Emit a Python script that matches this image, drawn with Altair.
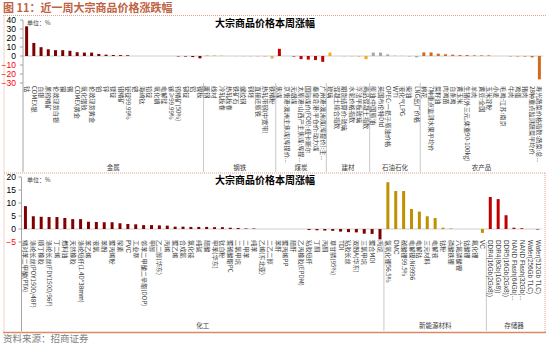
import re
import altair as alt
import pandas as pd

FONT = "Noto Sans CJK SC"
LATIN = "Liberation Sans"

# ---------------- top panel ----------------
metal_names = ["钴", "COMEX银", "白银", "黑钨精矿", "伦敦现货白银", "铜", "锡", "COMEX黄金", "氧化镨钕",
               "伦敦现货黄金", "铂", "锌", "镁锭", "钼精矿", "铋锭99.99%", "钯", "海绵钛", "铅锭", "氧化镝",
               "电解锰", "镓≥99.99%", "钨精矿(50%)", "锑锭", "铝", "镍板"]
metal_vals = [33, 14.5, 9.8, 7.5, 6.5, 6.5, 5.8, 4.2, 3.8, 3.8, 2.3, 1.5, 1.1, 1.0, 0.7,
              0, 0, 0, 0, 0, 0, -0.5, -0.6, -1.2, -2.6]
steel_names = ["废钢", "线材", "冷轧板卷", "热轧板卷", "铁矿石", "螺纹钢", "钢坯", "直接还原铁",
               "热轧带钢(中宽带)", "铁精粉"]
steel_vals = [0.8, 0.6, 0.4, 0, -0.2, -0.3, -0.3, -0.4, -0.6, -2.8]
coal_names = ["焦煤", "京唐港:澳洲主焦煤(库提价):山西产", "无烟煤", "太原港:山西产主焦煤:库提价:含税",
              "国际煤价(FOB):纽卡斯尔", "秦皇岛港:平仓价:动力煤", "广州港:澳洲煤(库提价):主焦煤"]
coal_vals = [8.0, 0, -0.6, -3.5, -4.0, -4.5, -6.5]
build_names = ["玻璃", "混凝土综合指数", "期货结算价:玻璃", "水泥价格指数", "浮法平板玻璃", "商品混凝土指数"]
build_vals = [3.8, 0, -0.3, -0.4, -0.6, -3.5]
petro_names = ["原油:中国原油", "英国布伦特Dtd", "OPEC:一揽子原油价格", "WTI", "液化气LPG", "柴油", "LNG出厂价格"]
petro_vals = [3.8, 3.8, 1.8, 0.3, 0.2, -0.5, -1.5]
agri_names = ["棉花", "7种重点监测水果平均价", "菜籽油", "肉鸡苗", "白条鸡", "黄玉米",
              "生猪(外三元,体重90-100kg)", "羊肉", "黄豆:全国", "玉米淀粉", "小麦", "毛鸡:江苏:南京",
              "牛肉", "鸡蛋", "猪肉", "28种重点监测蔬菜平均价", "寿光蔬菜价格指数:蔬菜:总指数"]
agri_vals = [4, 4, 2.6, 1.9, 1.5, 1.1, 1.1, 0.7, 0.7, 0.7, 0, 0, -0.4, -0.5, -0.6, -1.5, -26]

top_groups = ["金属", "钢铁", "煤炭", "建材", "石油石化", "农产品"]
top_names = [metal_names, steel_names, coal_names, build_names, petro_names, agri_names]
top_values = [metal_vals, steel_vals, coal_vals, build_vals, petro_vals, agri_vals]
top_colors = ["#7f0000", "#dcae4e", "#c00000", "#f0ac1a", "#a6a6a6", "#d2691e"]
top_ticks = [40, 30, 20, 10, 0, -10, -20, -30]

# ---------------- bottom panel ----------------
chem_names = ["精对苯二甲酸(PTA)", "涤纶长丝(POY150D/48F)", "顺丁橡胶", "涤纶长丝(FDY150D/96F)", "丁二烯",
              "燃料油", "天然橡胶", "涤纶短纤(1.4D*38mm)", "苯乙烯", "液氯", "苯酚", "聚丙烯粉", "尿素", "PVC",
              "工业萘", "邻苯二甲酸二辛酯(DOP)", "甲醇", "乙二醇(华东)", "丙烯", "聚乙烯", "合成氨", "氯化铵",
              "纯碱", "醋酸", "甲苯(华东)", "钛白粉", "聚碳酸酯PC", "二氯甲烷", "二甲苯", "纯苯", "乙烯(东北亚)",
              "二乙二醇", "苯酐", "聚丙烯PP", "醋酐", "乙丙橡胶(EPDM)", "粘胶短纤", "丁酮", "丙酮",
              "草甘膦(95%)", "TDI", "粘胶长丝", "双酚A(华东)", "三氯甲烷", "聚合MDI", "丙烷"]
chem_vals = [8.8, 4.9, 4.7, 4.6, 4.6, 4.2, 3.8, 3.8, 2.8, 2.7, 2.6, 2.6, 2.2, 1.9, 1.8, 1.5, 1.5, 1.4,
             1.3, 0.9, 0.9, 0.8, 0.8, 0.8, 0.7, 0.7, 0.5, 0.4, 0.2, 0.2, 0, 0, 0, 0, 0, 0,
             -0.4, -0.5, -0.6, -0.7, -1.0, -1.2, -1.3, -1.8, -1.9, -4.0]
ne_names = ["氢氧化锂56.5%", "DMC", "碳酸锂99.5%", "电解镍:Ni9996", "电解钴", "三元材料", "电解液",
            "钴粉", "磷酸铁锂", "六氟磷酸锂", "钴酸锂", "氟化锂", "VC"]
ne_vals = [18, 14.6, 14.6, 7.7, 6.7, 4.9, 4.2, 0.5, 0.2, 0, 0, 0, -1.5]
mem_names = ["DDR4(16Gb(2Gx8))", "DDR4(8Gb(1Gx8))", "DDR5(16Gb(2Gx8))", "NAND Flash(64Gb(8Gx8)MLC)",
             "NAND Flash(32Gb(4Gx8)MLC)", "Wafer(256Gb TLC)", "Wafer(512Gb TLC)"]
mem_vals = [12.3, 11.5, 5.3, 0.5, 0.3, 0, -0.2]

bot_groups = ["化工", "新能源材料", "存储器"]
bot_names = [chem_names, ne_names, mem_names]
bot_values = [chem_vals, ne_vals, mem_vals]
bot_colors = ["#7f0000", "#bf9000", "#c00000"]
bot_ticks = [20, 15, 10, 5, 0, -5]

CJK = re.compile(r"[\u3000-\u9fff\uff00-\uffef]")


def build(groups, names, values):
    rows, grows = [], []
    for g, ns, vs in zip(groups, names, values):
        for n, v in zip(ns, vs):
            rows.append({"cat": n, "val": v, "grp": g, "latin": CJK.search(n) is None})
        k = len(ns)
        grows.append({"grp": g, "first": ns[0], "mid": ns[k // 2], "odd": k % 2 == 1})
    return pd.DataFrame(rows), pd.DataFrame(grows)


def panel(groups, names, values, colors, ticks, ydom, yrng, xrng, lab_y, sep_bot, glab_y):
    df, gdf = build(groups, names, values)
    xs = alt.Scale(domain=list(df["cat"]), range=xrng, paddingInner=0, paddingOuter=0)
    ys = alt.Scale(domain=ydom, range=yrng, nice=False, zero=False)
    cs = alt.Scale(domain=groups, range=colors)
    plot_top, plot_bot = yrng[1], yrng[0]

    def X(field, **kw):
        return alt.X(field, scale=xs, axis=None, **kw)

    zero = alt.Chart(pd.DataFrame({"z": [0]})).mark_rule(color="#d0d0d0", strokeWidth=1).encode(
        y=alt.Y("z:Q", scale=ys, axis=None), x=alt.value(xrng[0]), x2=alt.value(xrng[1]))
    bars = alt.Chart(df).mark_bar(size=3).encode(
        x=X("cat:N"),
        y=alt.Y("val:Q", scale=ys, axis=None),
        color=alt.Color("grp:N", scale=cs, legend=None))
    lab_cjk = alt.Chart(df[~df["latin"]]).mark_text(
        angle=90, align="left", baseline="middle", fontSize=6.2, font=FONT, color="#404040",
        limit=78, ellipsis="...").encode(x=X("cat:N"), y=alt.value(lab_y), text="cat:N")
    layers = [zero]
    tdf = pd.DataFrame({"t": ticks})
    tlab = alt.Chart(tdf).mark_text(align="right", baseline="middle", fontSize=8.5,
                                    font=LATIN).encode(
        y=alt.Y("t:Q", scale=ys, axis=None), x=alt.value(16), text="t:Q",
        color=alt.condition("datum.t < 0", alt.value("#ff0000"), alt.value("#000000")))
    tticks = alt.Chart(tdf).mark_rule(color="#a0a0a0").encode(
        y=alt.Y("t:Q", scale=ys, axis=None), x=alt.value(xrng[0] - 3), x2=alt.value(xrng[0]))
    axis_line = alt.Chart(gdf.iloc[:1]).mark_rule(color="#a6a6a6").encode(
        x=X("first:N", bandPosition=0), y=alt.value(plot_top), y2=alt.value(sep_bot))
    seps = alt.Chart(gdf.iloc[1:]).mark_rule(color="#c8c8c8").encode(
        x=X("first:N", bandPosition=0), y=alt.value(plot_bot), y2=alt.value(sep_bot))
    gl_even = alt.Chart(gdf[~gdf["odd"]]).mark_text(fontSize=6.5, font=FONT, color="#404040",
                                                    baseline="middle").encode(
        x=X("mid:N", bandPosition=0), y=alt.value(glab_y), text="grp:N")
    gl_odd = alt.Chart(gdf[gdf["odd"]]).mark_text(fontSize=6.5, font=FONT, color="#404040",
                                                  baseline="middle").encode(
        x=X("mid:N", bandPosition=0.5), y=alt.value(glab_y), text="grp:N")
    layers += [tticks, axis_line, seps, bars, lab_cjk]
    if df["latin"].any():
        lab_lat = alt.Chart(df[df["latin"]]).mark_text(
            angle=90, align="left", baseline="middle", fontSize=6.4, font=LATIN, color="#404040",
            limit=62, ellipsis="...").encode(x=X("cat:N"), y=alt.value(lab_y), text="cat:N")
        layers.append(lab_lat)
    layers += [tlab, gl_even, gl_odd]
    return alt.layer(*layers)


top = panel(top_groups, top_names, top_values, top_colors, top_ticks,
            [-30, 40], [83, 20], [23, 543], 86, 172, 168)
bottom = panel(bot_groups, bot_names, bot_values, bot_colors, bot_ticks,
               [-5, 20], [242, 177], [21.5, 541.5], 240, 331, 326)

one = pd.DataFrame({"a": [0]})


def txt(s, x, y, size, color="#000000", weight="normal", align="left", font=FONT):
    return alt.Chart(one).mark_text(text=s, fontSize=size, color=color, fontWeight=weight,
                                    align=align, baseline="middle", font=font).encode(
        x=alt.value(x), y=alt.value(y))


def line(x1, y1, x2, y2, color, dash=None, w=1):
    kw = {"color": color, "strokeWidth": w}
    if dash:
        kw["strokeDash"] = dash
    return alt.Chart(one).mark_rule(**kw).encode(
        x=alt.value(x1), y=alt.value(y1), x2=alt.value(x2), y2=alt.value(y2))


deco = alt.layer(
    line(3, 15.5, 546, 15.5, "#e6a08c", [1, 1]),
    line(4, 15.5, 4, 332, "#e6a08c", [1, 1]),
    line(4, 173, 545, 173, "#e6a08c", [1, 1]),
    line(545, 173, 545, 332, "#e6a08c", [1, 1]),
    line(3, 332.5, 546, 332.5, "#d98a68", None, 1.5),
    txt("图 11：近一周大宗商品价格涨跌幅", 3, 8.5, 11, "#c0613f", "bold"),
    txt("大宗商品价格本周涨幅", 265, 23.5, 10, "#000000", "bold", "center"),
    txt("大宗商品价格本周涨幅", 265, 180.5, 10, "#000000", "bold", "center"),
    txt("单位：%", 27, 23, 6, "#404040"),
    txt("单位：%", 27, 180, 6, "#404040"),
    txt("资料来源：招商证券", 3, 339, 9.5, "#808080"),
)

chart = alt.layer(deco, top, bottom).resolve_scale(
    x="independent", y="independent", color="independent"
).properties(
    width=550, height=345, autosize=alt.AutoSizeParams(type="none"), padding=0,
    background="white"
).configure_view(stroke=None)

chart.save("out.html", embed_options={"renderer": "svg", "actions": False})
